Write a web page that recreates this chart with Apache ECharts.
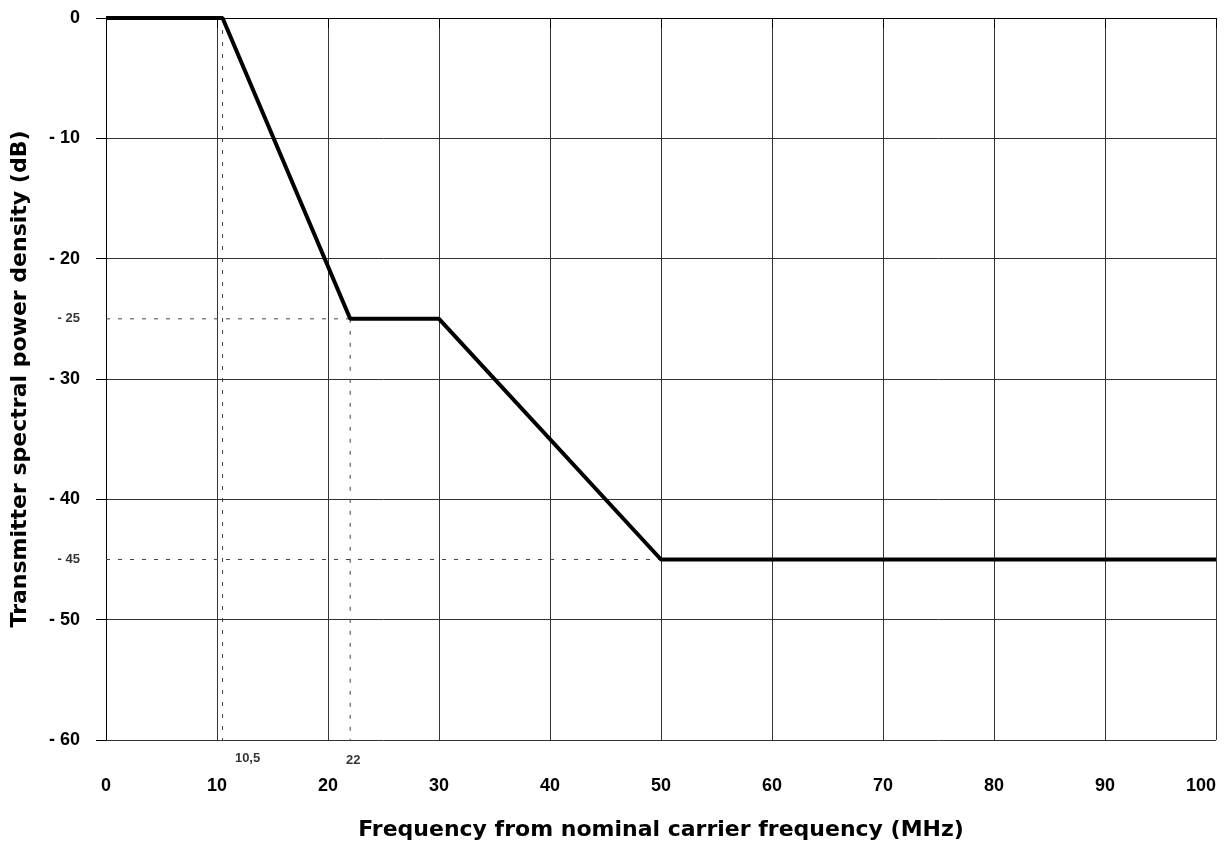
<!DOCTYPE html>
<html><head><meta charset="utf-8">
<script src="https://cdn.jsdelivr.net/npm/echarts@6/dist/echarts.min.js"></script>
<style>html,body{margin:0;padding:0;background:#fff}#c{width:1225px;height:845px}</style>
</head><body><div id="c"></div>
<script>
// Mask points (MHz, dB)
const maskX = [0, 10.5, 22, 30, 50, 100];
const maskY = [0, 0, -25, -25, -45, -45];
// Reference (dotted) lines
const refV105X = [10.5, 10.5];
const refV105Y = [0, -60];
const refV22X = [22, 22];
const refV22Y = [-25, -60];
const refH25X = [0, 22];
const refH25Y = [-25, -25];
const refH45X = [0, 50];
const refH45Y = [-45, -45];
// Extra annotation labels
const yExtraVals = [-25, -45];
const yExtraText = ['- 25', '- 45'];
const xExtraVals = [10.5, 22];
const xExtraText = ['10,5', '22'];

const FONT = 'Liberation Sans';
const TFONT = 'DejaVu Sans';
const zip = (a, b) => a.map((v, i) => [v, b[i]]);
const dash = { color: '#444', width: 1, type: [4, 8] };

const chart = echarts.init(document.getElementById('c'));
chart.setOption({
  backgroundColor: '#fff',
  animation: false,
  grid: { left: 106, right: 9, top: 18, bottom: 105, outerBoundsMode: 'none', containLabel: false },
  xAxis: {
    type: 'value', min: 0, max: 100, interval: 10,
    name: 'Frequency from nominal carrier frequency (MHz)',
    nameLocation: 'middle', nameGap: 79,
    nameTextStyle: { fontFamily: TFONT, fontWeight: 'bold', fontSize: 22, color: '#000' },
    axisLine: { show: true, lineStyle: { color: '#000', width: 1 } },
    axisTick: { show: true, length: 10, lineStyle: { color: '#000' } },
    axisLabel: { margin: 37, fontFamily: FONT, fontWeight: 'bold', fontSize: 18, color: '#000',
      alignMaxLabel: 'right' },
    splitLine: { show: true, lineStyle: { color: '#333', width: 1 } }
  },
  yAxis: {
    type: 'value', min: -60, max: 0, interval: 10,
    name: 'Transmitter spectral power density (dB)',
    nameLocation: 'middle', nameGap: 75,
    nameTextStyle: { fontFamily: TFONT, fontWeight: 'bold', fontSize: 22, color: '#000' },
    axisLine: { show: true, lineStyle: { color: '#000', width: 1 } },
    axisTick: { show: true, length: 10, lineStyle: { color: '#000' } },
    axisLabel: { margin: 26, fontFamily: FONT, fontWeight: 'bold', fontSize: 18, color: '#000',
      formatter: v => v === 0 ? '0' : '- ' + Math.abs(v) },
    splitLine: { show: true, lineStyle: { color: '#333', width: 1 } }
  },
  series: [
    { type: 'line', data: zip(refV105X, refV105Y), symbol: 'none', lineStyle: dash, z: 3 },
    { type: 'line', data: zip(refV22X, refV22Y), symbol: 'none', lineStyle: dash, z: 3 },
    { type: 'line', data: zip(refH25X, refH25Y), symbol: 'none', lineStyle: dash, z: 3 },
    { type: 'line', data: zip(refH45X, refH45Y), symbol: 'none', lineStyle: dash, z: 3 },
    { type: 'line', data: zip(maskX, maskY), symbol: 'none',
      lineStyle: { color: '#000', width: 4 }, z: 5 },
    { type: 'scatter', symbolSize: 0, silent: true,
      data: yExtraVals.map((v, i) => ({ value: [0, v], name: yExtraText[i] })),
      label: { show: true, position: 'left', distance: 26, formatter: p => p.name,
        fontFamily: FONT, fontWeight: 'bold', fontSize: 13, color: '#000' } },
    { type: 'scatter', symbolSize: 0, silent: true,
      data: xExtraVals.map((v, i) => ({ value: [v, -60], name: xExtraText[i],
        label: { offset: i === 0 ? [25, 0] : [3, 2] } })),
      label: { show: true, position: 'bottom', distance: 12, formatter: p => p.name,
        fontFamily: FONT, fontWeight: 'bold', fontSize: 13, color: '#000' } }
  ]
});
</script></body></html>
